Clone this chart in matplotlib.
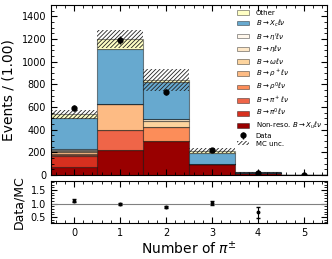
import numpy as np
import matplotlib
matplotlib.use("Agg")
import matplotlib.pyplot as plt
from matplotlib.ticker import AutoMinorLocator, MultipleLocator
from matplotlib.patches import Patch

bins = [0, 1, 2, 3, 4, 5]

nonreso = [73, 225, 297, 93, 18, 0]
pi0 = [96, 0, 0, 0, 0, 0]
pip = [8, 170, 0, 0, 0, 0]
rho0 = [12, 0, 126, 0, 0, 0]
rhop = [12, 235, 0, 0, 0, 0]
omega = [10, 0, 55, 0, 0, 0]
eta = [10, 0, 18, 0, 0, 0]
etap = [5, 0, 0, 0, 0, 0]
xc = [279, 480, 329, 100, 5, 0]
other = [30, 92, 13, 22, 2, 0]

mc_unc = [37, 80, 95, 25, 5, 0]

data = [590, 1190, 735, 219, 17, 2]
data_err = [24, 34, 27, 15, 4, 1.4]
ratio_err = [0.05, 0.035, 0.045, 0.07, 0.2]

components = [
    (nonreso, "#990000", r"Non-reso. $B\to X_u\ell\nu$"),
    (pi0, "#d7301f", r"$B\to\pi^0\ell\nu$"),
    (pip, "#ef6548", r"$B\to\pi^+\ell\nu$"),
    (rho0, "#fc8d59", r"$B\to\rho^0\ell\nu$"),
    (rhop, "#fdbb84", r"$B\to\rho^+\ell\nu$"),
    (omega, "#fdd49e", r"$B\to\omega\ell\nu$"),
    (eta, "#fee8c8", r"$B\to\eta\ell\nu$"),
    (etap, "#fff7ec", r"$B\to\eta'\ell\nu$"),
    (xc, "#67a9cf", r"$B\to X_c\ell\nu$"),
    (other, "#ffffc4", "Other"),
]

plt.rcParams["hatch.linewidth"] = 0.6
fig = plt.figure(figsize=(3.32, 2.59), dpi=100)
ax = fig.add_axes([0.1536, 0.3243, 0.831, 0.6564])
rax = fig.add_axes([0.1536, 0.1378, 0.831, 0.1634], sharex=ax)

x = np.array(bins)
bottom = np.zeros(len(bins))
handles = []
for vals, col, lab in components:
    vals = np.array(vals, dtype=float)
    ax.bar(x, vals, width=1.0, bottom=bottom, color=col, edgecolor=(0, 0, 0, 0.45), linewidth=0.8)
    bottom = bottom + vals
    handles.append(Patch(facecolor=col, edgecolor=(0, 0, 0, 0.45), linewidth=0.6, label=lab))

total = bottom
unc = np.array(mc_unc, dtype=float)
ax.bar(x, 2 * unc, width=1.0, bottom=total - unc, fill=False, hatch="////////", edgecolor="#222222", linewidth=0)

dh = ax.errorbar(x, data, yerr=data_err, fmt="o", color="k", markersize=3.5, elinewidth=1, capsize=0, label="Data")
unc_h = Patch(facecolor="none", hatch="////////", edgecolor="#222222", linewidth=0, label="MC unc.")

leg_handles = handles[::-1] + [dh, unc_h]
ax.legend(handles=leg_handles, loc="upper right", bbox_to_anchor=(1.0, 1.0), frameon=False,
          fontsize=5.0, handlelength=1.7, handleheight=0.65, handletextpad=1.0,
          labelspacing=0.25, borderaxespad=0.5, borderpad=0.2)

ax.set_xlim(-0.5, 5.5)
ax.set_ylim(0, 1500)
ax.set_ylabel("Events / (1.00)", fontsize=10)
ax.yaxis.set_major_locator(MultipleLocator(200))
ax.yaxis.set_minor_locator(AutoMinorLocator(4))
ax.xaxis.set_minor_locator(AutoMinorLocator(5))
ax.tick_params(axis="x", labelbottom=False)

ratio = np.array(data[:5]) / total[:5]
rax.errorbar(x[:5], ratio, yerr=ratio_err, fmt="o", color="k", markersize=1.8, elinewidth=0.8, capsize=1.5)
rax.axhline(1.0, color="gray", linewidth=0.8)
rax.set_ylim(0.27, 1.83)
rax.yaxis.set_major_locator(MultipleLocator(0.5))
rax.yaxis.set_minor_locator(MultipleLocator(0.1))
rax.set_xticks(bins)
rax.set_ylabel("Data/MC", fontsize=9)
rax.set_xlabel(r"Number of $\pi^{\pm}$", fontsize=10, labelpad=1)

for a in (ax, rax):
    a.tick_params(which="both", direction="in", top=True, right=True, labelsize=7)
    a.tick_params(which="major", length=4)
    a.tick_params(which="minor", length=2)

fig.savefig("out.png", dpi=100)
plt.close(fig)
